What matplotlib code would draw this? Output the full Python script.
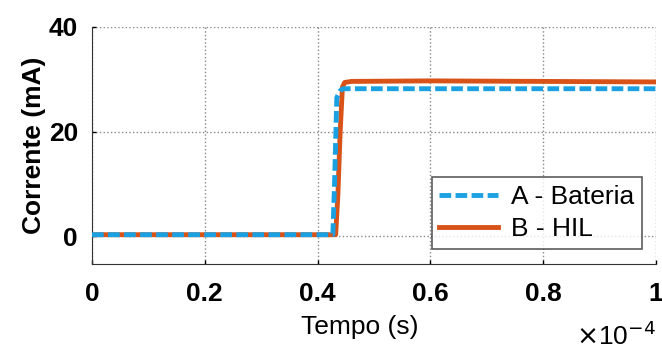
import matplotlib.pyplot as plt
from matplotlib import rcParams

rcParams['font.family'] = ['Liberation Sans', 'DejaVu Sans']

# tempo em unidades de 1e-4 s
t_bateria = [0, 0.427, 0.430, 0.434, 0.440, 0.445, 1.0]
i_bateria = [0.3, 0.3, 10, 26.5, 27.8, 28.2, 28.2]

t_hil = [0, 0.432, 0.436, 0.440, 0.444, 0.448, 0.46, 0.6, 0.8, 1.0]
i_hil = [0.3, 0.3, 8, 20, 28.5, 29.4, 29.6, 29.7, 29.6, 29.5]

xticks = [0, 0.2, 0.4, 0.6, 0.8, 1.0]
xticklabels = ['0', '0.2', '0.4', '0.6', '0.8', '1']
yticks = [0, 20, 40]

fig = plt.figure(figsize=(6.62, 3.52), dpi=100)
ax = fig.add_axes([92 / 662, (352 - 264) / 352, 564 / 662, (264 - 27) / 352])

ax.plot(t_bateria, i_bateria, color='#1BA1E2', lw=3.5, ls=(0, (2.4, 0.9)),
        label='A - Bateria', zorder=3)
ax.plot(t_hil, i_hil, color='#D95319', lw=3.5, label='B - HIL', zorder=2)

ax.set_xlim(0, 1)
ax.set_ylim(-5.3, 40)
ax.set_xticks(xticks)
ax.set_xticklabels(xticklabels)
ax.set_yticks(yticks)
ax.tick_params(direction='in', length=3, labelsize=19, width=1)
ax.tick_params(axis='x', pad=13)
ax.tick_params(axis='y', pad=10)
for lab in ax.get_xticklabels() + ax.get_yticklabels():
    lab.set_fontweight('bold')

ax.grid(True, ls=':', color='#888888', lw=1)
ax.spines['top'].set_visible(False)
ax.spines['right'].set_visible(False)
ax.spines['left'].set_color('#333333')
ax.spines['bottom'].set_color('#333333')

ax.set_xlabel('Tempo (s)', fontsize=19)
ax.xaxis.set_label_coords((360 - 92) / 564, -0.215)
ax.set_ylabel('Corrente (mA)', fontsize=19, fontweight='bold', labelpad=2)
fig.text(0.99, 0.005, r'$\times$10$^{-4}$', ha='right', va='bottom', fontsize=19)

leg = ax.legend(loc='lower right', bbox_to_anchor=(0.975, 0.063), fontsize=19,
                frameon=True, fancybox=False, edgecolor='#333333',
                handlelength=2.2, handletextpad=0.5, borderpad=0.3,
                labelspacing=0.3, borderaxespad=0)
leg.get_frame().set_linewidth(1.2)

plt.savefig('out.png', dpi=100)
